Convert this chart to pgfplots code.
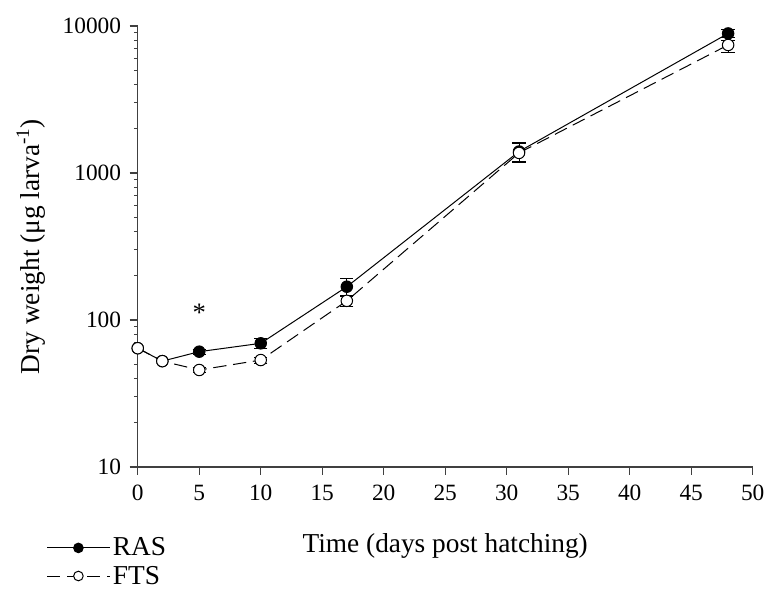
\documentclass[border=0pt]{standalone}
\usepackage{fontspec}
\setmainfont{Liberation Serif}
\usepackage{pgfplots}
\pgfplotsset{compat=1.18}
\begin{document}
\begin{tikzpicture}
\useasboundingbox (-103.3pt,-91.5pt) rectangle (472.7pt,350.25pt);
\begin{axis}[
  scale only axis,
  width=461.25pt, height=330.75pt,
  ymode=log,
  xmin=0, xmax=50, ymin=10, ymax=10000,
  axis lines=left,
  axis line style={-, line width=0.8pt, black!75},
  xtick={0,5,...,50},
  ytick={10,100,1000,10000},
  yticklabels={10,100,1000,10000},
  minor ytick={},
  tick align=outside,
  major tick length=6pt,
  tick style={line width=0.8pt, black!75},
  /pgf/number format/assume math mode=true,
  ticklabel style={font=\fontsize{17.5}{20}\selectfont},
  xticklabel style={yshift=-4pt},
  yticklabel style={xshift=-3pt},
  xlabel={Time (days post hatching)},
  ylabel={Dry weight (μg larva\textsuperscript{-1})},
  label style={font=\fontsize{20.5}{22}\selectfont},
  xlabel style={at={(0.5,0)}, anchor=north, yshift=-46pt},
  ylabel style={at={(0,0.5)}, anchor=south, yshift=66pt},
  clip=false,
  legend style={at={(-0.153,-0.148)}, anchor=north west, draw=none, fill=none,
    font=\fontsize{20.5}{22}\selectfont, row sep=2pt, inner sep=2pt},
  legend cell align=left,
  legend image code/.code={
    \draw[mark repeat=2,mark phase=2,mark size=3.6pt] plot coordinates {(0pt,0pt)(23.5pt,0pt)(47pt,0pt)};
  },
]
\addplot+[black, line width=0.75pt, mark=*, mark size=4.3pt,
  mark options={solid, fill=black, draw=black},
  error bars/.cd, y dir=both, y explicit,
  error bar style={solid, line width=0.75pt, black},
  error mark options={rotate=90, mark size=5pt, line width=0.75pt}]
coordinates {
 (0,64.3)
 (2,52.5)
 (5,60.9) +- (0,2.5)
 (10,69.4) +- (0,5.6)
 (17,168.5) +- (0,24)
 (31,1400) +- (0,200)
 (48,8900) +- (0,500)
};
\addlegendentry{RAS}
\addplot+[black, line width=0.75pt, dash pattern=on 10pt off 5pt, mark=*, mark size=4.3pt,
  mark options={solid, fill=white, draw=black},
  error bars/.cd, y dir=both, y explicit,
  error bar style={solid, line width=0.75pt, black},
  error mark options={rotate=90, mark size=5pt, line width=0.75pt}]
coordinates {
 (0,64.3)
 (2,52.5)
 (5,45.7) +- (0,1.5)
 (10,53.4) +- (0,2.5)
 (17,135) +- (0,12)
 (31,1370) += (0,220) -= (0,195)
 (48,7430) += (0,500) -= (0,810)
};
\addlegendentry{FTS}
\node[font=\fontsize{20}{20}\selectfont] at (axis cs:5,112) {*};
\end{axis}
\end{tikzpicture}
\end{document}
